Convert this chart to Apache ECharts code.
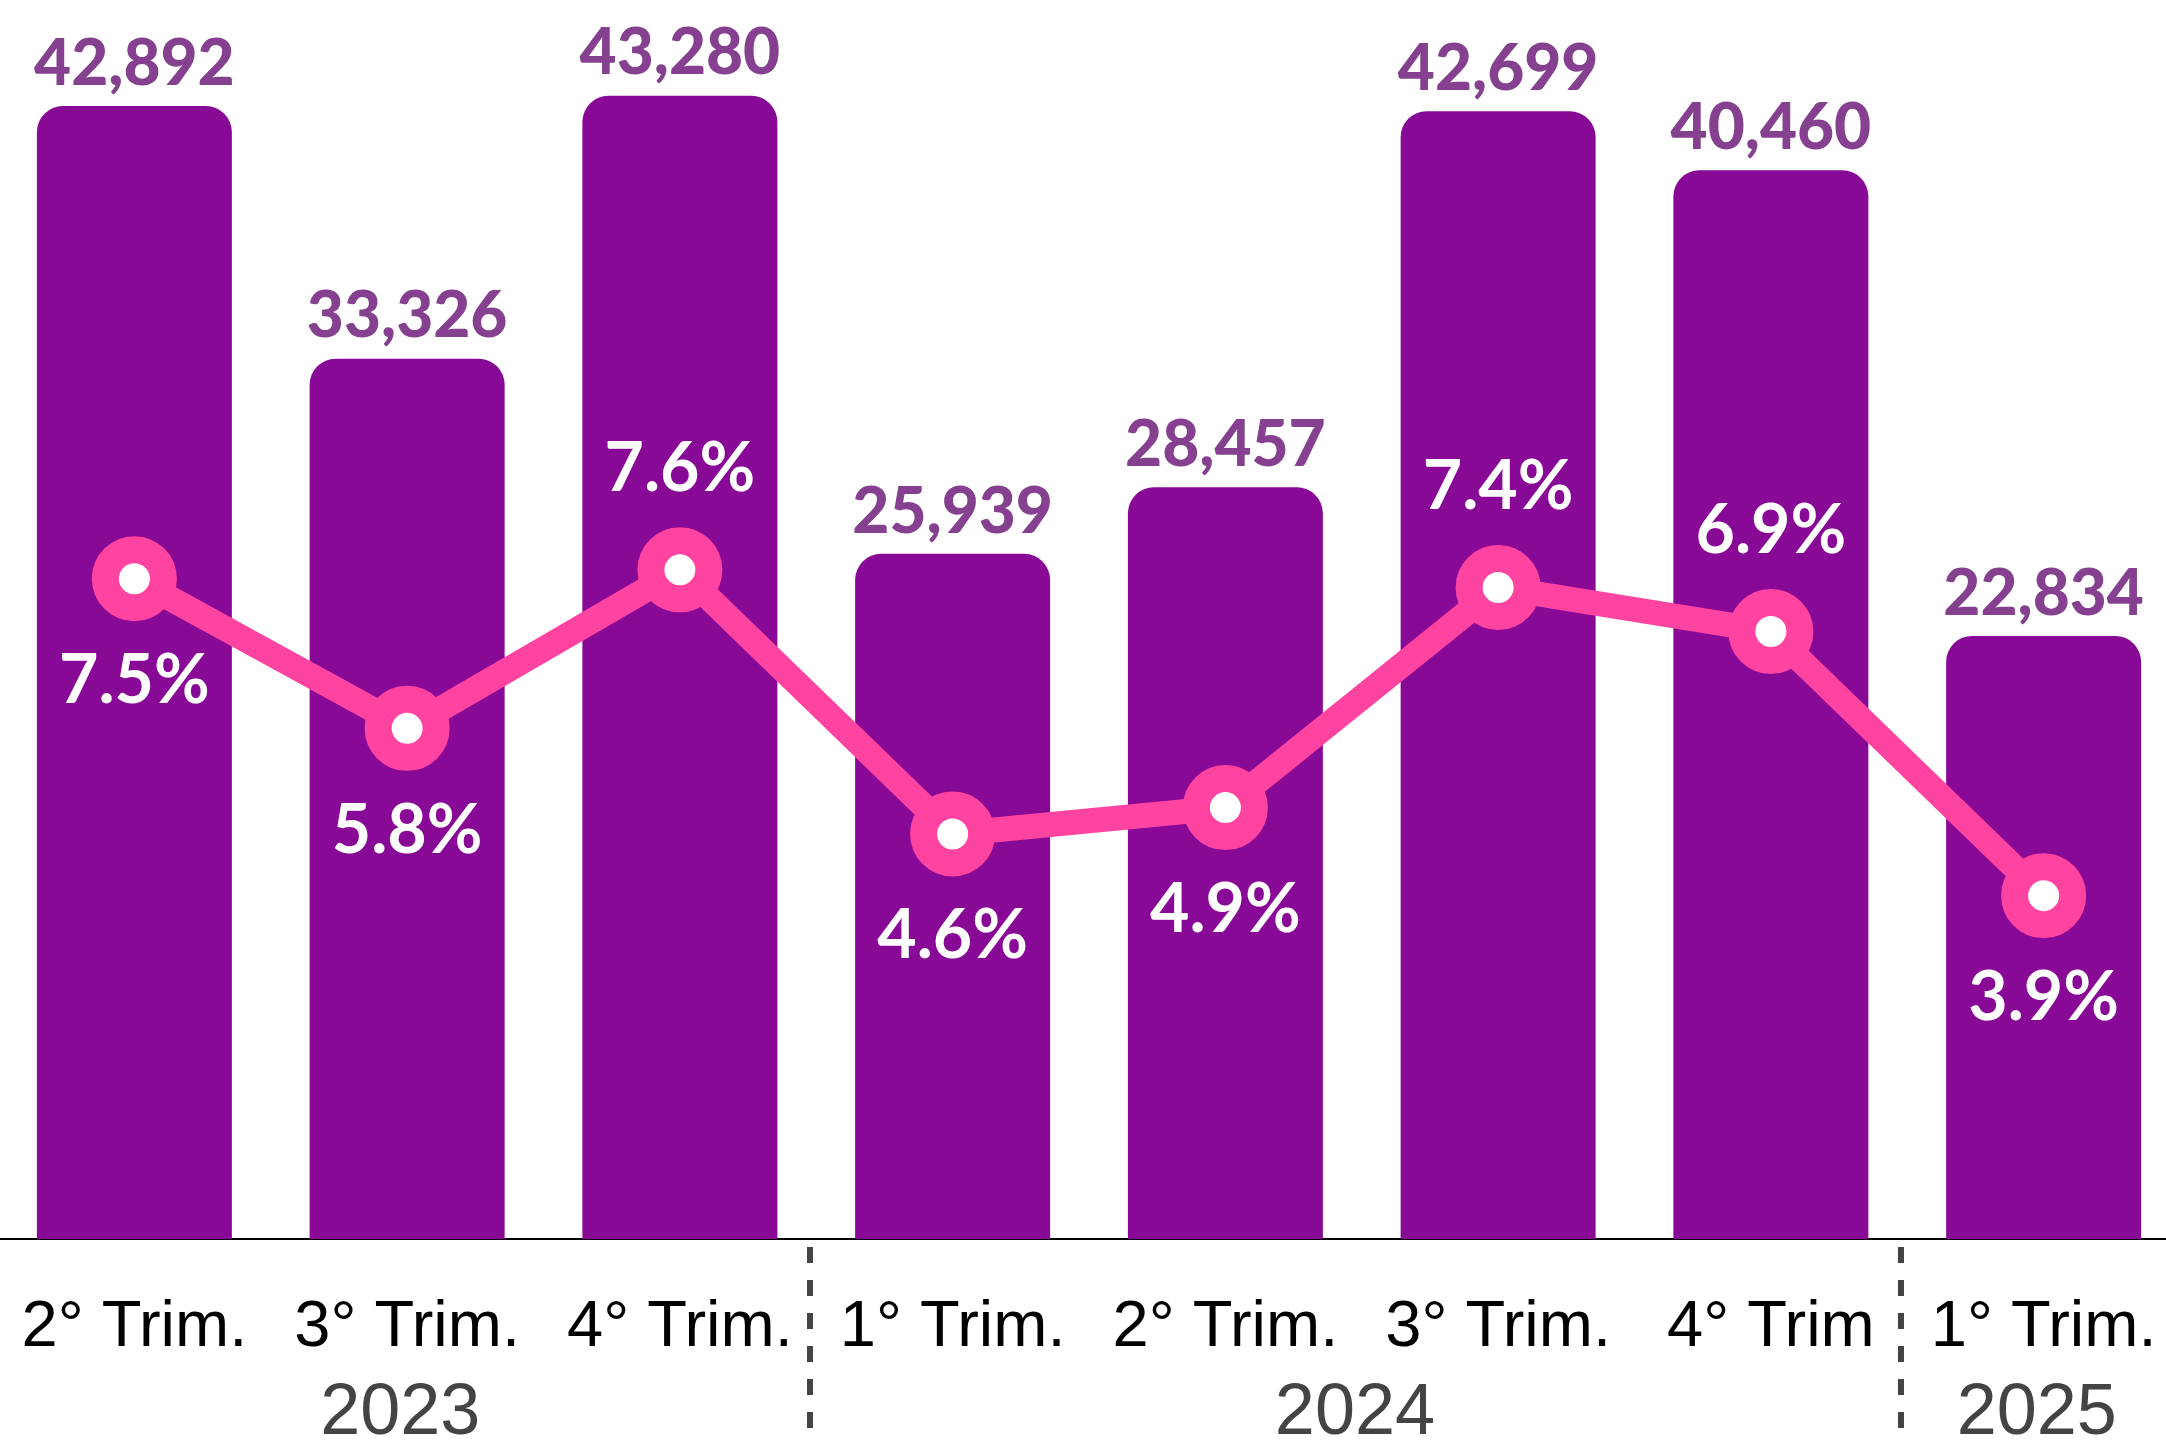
<!DOCTYPE html>
<html>
<head>
<meta charset="utf-8">
<script src="https://cdn.jsdelivr.net/npm/echarts@6/dist/echarts.min.js"></script>
<style>
  html, body { margin: 0; padding: 0; background: #fff; }
  #main { width: 2166px; height: 1443px; }
</style>
</head>
<body>
<div id="main"></div>
<script>
// quarters (category axis)
const quarters = ['2° Trim.', '3° Trim.', '4° Trim.', '1° Trim.', '2° Trim.', '3° Trim.', '4° Trim', '1° Trim.'];
// bar values
const totals = [42892, 33326, 43280, 25939, 28457, 42699, 40460, 22834];
// line values, percent
const rates = [7.5, 5.8, 7.6, 4.6, 4.9, 7.4, 6.9, 3.9];
// year groups and how many quarters each covers
const years = ['2023', '2024', '2025'];
const yearSpans = [3, 4, 1];

// label of the rate above the marker for these points, below for the rest
const rateLabelAbove = [2, 5, 6];

const purple = '#880996';
const pink = '#FF43A0';

// centres of the year groups and the borders between them, in category units
let yearCentres = [];
let yearBorders = [];
let acc = 0;
for (let i = 0; i < yearSpans.length; i++) {
    yearCentres.push(acc + yearSpans[i] / 2);
    acc += yearSpans[i];
    if (i < yearSpans.length - 1) yearBorders.push(acc);
}

let rateData = rates.map(function (v, i) {
    let above = rateLabelAbove.indexOf(i) >= 0;
    return {
        value: v,
        label: { position: above ? 'top' : 'bottom', distance: above ? 24 : 26 }
    };
});

// the year axis sits a hair left of the category borders in the original
const yearShift = 0.025;

const chart = echarts.init(document.getElementById('main'));
chart.setOption({
    animation: false,
    backgroundColor: '#fff',
    grid: { left: -2, width: 2182, top: 24, bottom: 204, outerBoundsMode: 'none', containLabel: false },
    xAxis: [
        {
            type: 'category',
            data: quarters,
            axisLine: { lineStyle: { color: '#000', width: 2 } },
            axisTick: { show: false },
            axisLabel: {
                color: '#000',
                fontFamily: 'Liberation Sans',
                fontSize: 65,
                lineHeight: 65,
                margin: 57,
                interval: 0
            }
        },
        {
            type: 'value',
            position: 'bottom',
            min: yearShift,
            max: quarters.length + yearShift,
            splitLine: { show: false },
            axisLine: { show: false },
            axisTick: {
                show: true,
                customValues: yearBorders,
                length: 210,
                lineStyle: { color: '#444', width: 6, type: [16, 17], dashOffset: 25 }
            },
            axisLabel: {
                customValues: yearCentres,
                formatter: function (v) {
                    let idx = yearCentres.indexOf(v);
                    return idx >= 0 ? years[idx] : '';
                },
                color: '#444',
                fontFamily: 'Liberation Sans',
                fontSize: 72,
                lineHeight: 72,
                margin: 139
            }
        }
    ],
    yAxis: [
        { type: 'value', min: 0, max: 46000, show: false },
        { type: 'value', min: 0, max: 13.8, show: false }
    ],
    series: [
        {
            type: 'bar',
            data: totals,
            barWidth: 195,
            itemStyle: { color: purple, borderRadius: [26, 26, 0, 0] },
            label: {
                show: true,
                position: 'top',
                distance: 10,
                color: '#85408F',
                fontFamily: 'Lato',
                fontWeight: 900,
                fontSize: 64,
                lineHeight: 64,
                formatter: function (p) {
                    return p.value.toLocaleString('en-US');
                }
            },
            emphasis: { disabled: true }
        },
        {
            type: 'line',
            yAxisIndex: 1,
            data: rateData,
            symbol: 'circle',
            symbolSize: 58,
            lineStyle: { color: pink, width: 25 },
            itemStyle: { color: '#fff', borderColor: pink, borderWidth: 27 },
            label: {
                show: true,
                color: '#fff',
                fontFamily: 'Lato',
                fontWeight: 'bold',
                fontSize: 68,
                lineHeight: 68,
                formatter: function (p) {
                    return p.value.toFixed(1) + '%';
                }
            },
            emphasis: { disabled: true },
            z: 3
        }
    ]
});
</script>
</body>
</html>
